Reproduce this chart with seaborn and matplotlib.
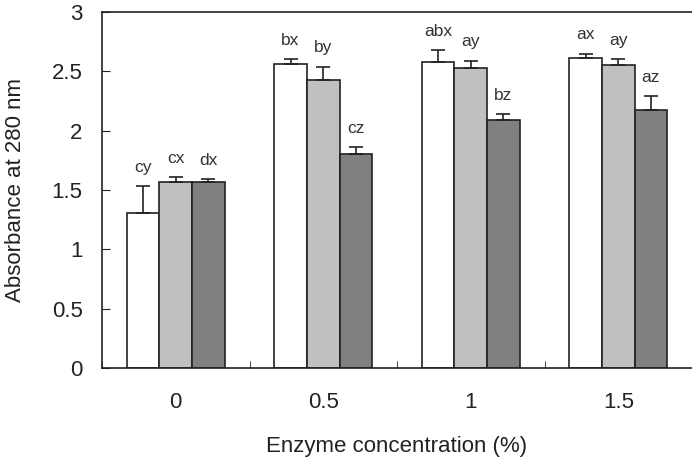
import numpy as np
import pandas as pd
import seaborn as sns
import matplotlib.pyplot as plt

# ---- data ----
concentrations = ["0", "0.5", "1", "1.5"]
series = ["A", "B", "C"]
values_a = [1.31, 2.56, 2.58, 2.61]
values_b = [1.57, 2.43, 2.53, 2.55]
values_c = [1.57, 1.80, 2.09, 2.17]
errors_a = [0.22, 0.04, 0.10, 0.04]
errors_b = [0.04, 0.11, 0.06, 0.05]
errors_c = [0.02, 0.06, 0.05, 0.12]
letters_a = ["cy", "bx", "abx", "ax"]
letters_b = ["cx", "by", "ay", "ay"]
letters_c = ["dx", "cz", "bz", "az"]
colors = ["#ffffff", "#c0c0c0", "#808080"]

df = pd.DataFrame({
    "conc": concentrations * 3,
    "series": np.repeat(series, 4),
    "value": values_a + values_b + values_c,
})
errs = [errors_a, errors_b, errors_c]
letters = [letters_a, letters_b, letters_c]

sns.set_style("ticks")
plt.rcParams["font.family"] = ["Liberation Sans", "DejaVu Sans"]

fig = plt.figure(figsize=(6.92, 4.62), dpi=100)
ax = fig.add_axes([0.1474, 0.2035, 0.8526, 0.7706])

sns.barplot(data=df, x="conc", y="value", hue="series", order=concentrations,
            hue_order=series, palette=colors, width=0.665, edgecolor="#222222",
            linewidth=1.2, errorbar=None, legend=False, ax=ax)

# error bars (upper only) and significance letters
bar_groups = list(ax.containers)
for i, cont in enumerate(bar_groups):
    for j, bar in enumerate(cont.patches):
        xc = bar.get_x() + bar.get_width() / 2
        h = bar.get_height()
        e = errs[i][j]
        ax.errorbar(xc, h, yerr=[[0], [e]], fmt="none", ecolor="#222222",
                    elinewidth=1.2, capsize=5, capthick=1.2)
        ax.text(xc, h + e + 0.12, letters[i][j], ha="center", va="baseline",
                fontsize=12.5, color="#333333")

ax.set_ylim(0, 3)
ax.set_xlim(-0.5, 3.5)
ax.set_yticks(np.arange(0, 3.01, 0.5))
ax.set_yticklabels(["0", "0.5", "1", "1.5", "2", "2.5", "3"])
ax.tick_params(axis="y", direction="in", length=6, pad=14, labelsize=16, colors="#222222")
ax.tick_params(axis="x", which="major", length=0, pad=17, labelsize=16, colors="#222222")
ax.set_xticks([-0.5, 0.5, 1.5, 2.5], minor=True)
ax.tick_params(axis="x", which="minor", direction="in", length=5, color="#222222")

for s in ["left", "bottom", "top"]:
    ax.spines[s].set_color("#222222")
    ax.spines[s].set_linewidth(1.2)
ax.spines["right"].set_visible(False)

ax.set_xlabel("Enzyme concentration (%)", fontsize=16, color="#222222")
ax.xaxis.set_label_coords(0.5, -0.19)
ax.set_ylabel("Absorbance at 280 nm", fontsize=16, color="#222222")
ax.yaxis.set_label_coords(-0.128, 0.5)

fig.savefig("out.png", dpi=100)
